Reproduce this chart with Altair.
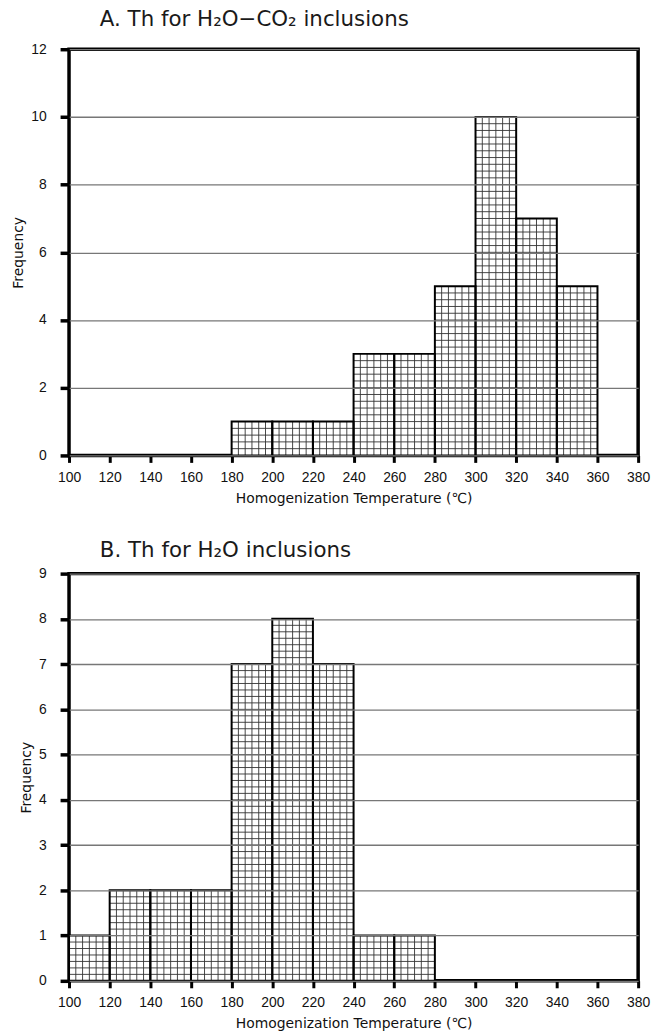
import altair as alt
import pandas as pd

bin_lo = [100, 120, 140, 160, 180, 200, 220, 240, 260, 280, 300, 320, 340, 360]
bin_width = 20
counts_a = [0, 0, 0, 0, 1, 1, 1, 3, 3, 5, 10, 7, 5, 0]
counts_b = [1, 2, 2, 2, 7, 8, 7, 1, 1, 0, 0, 0, 0, 0]
x_ticks = [100, 120, 140, 160, 180, 200, 220, 240, 260, 280, 300, 320, 340, 360, 380]
y_ticks_a = [0, 2, 4, 6, 8, 10, 12]
y_ticks_b = [0, 1, 2, 3, 4, 5, 6, 7, 8, 9]
title_a = "A.  Th for H\u2082O\u2212CO\u2082 inclusions"
title_b = "B.  Th for H\u2082O inclusions"
x_title = "Homogenization Temperature (\u2103)"
y_title = "Frequency"

LABEL_FONT = "Liberation Sans"
TEXT_FONT = "DejaVu Sans"


def panel(counts, y_ticks, hatch_step, height, title, title_offset):
    bars = pd.DataFrame({"lo": bin_lo, "hi": [b + bin_width for b in bin_lo], "n": counts})
    bars = bars[bars["n"] > 0].reset_index(drop=True)
    rows = []
    for lo, hi, n in zip(bars["lo"], bars["hi"], bars["n"]):
        for k in range(1, 6):
            xv = lo + k * bin_width / 6
            rows.append({"x": xv, "x2": xv, "y": 0, "y2": n})
        j = 1
        while j * hatch_step < n - 1e-9:
            rows.append({"x": lo, "x2": hi, "y": j * hatch_step, "y2": j * hatch_step})
            j += 1
    hatch = pd.DataFrame(rows)

    xs = alt.Scale(domain=[x_ticks[0], x_ticks[-1]], nice=False, zero=False)
    ys = alt.Scale(domain=[y_ticks[0], y_ticks[-1]], nice=False)
    xaxis = alt.Axis(values=x_ticks, title=x_title, grid=False, domain=False,
                     tickSize=7, tickWidth=3, tickColor="black", labelFlush=False,
                     labelFontSize=14, labelFont=LABEL_FONT, labelPadding=8,
                     labelColor="#111111",
                     titleFont=TEXT_FONT, titleFontSize=14, titleFontWeight="normal",
                     titleColor="#111111", titlePadding=7)
    yaxis = alt.Axis(values=y_ticks, title=y_title, grid=True, gridColor="#777777",
                     gridWidth=1.3, domain=False, zindex=1,
                     tickSize=9, tickWidth=3.5, tickColor="black",
                     labelFontSize=14, labelFont=LABEL_FONT, labelPadding=14,
                     labelColor="#111111",
                     titleFont=TEXT_FONT, titleFontSize=14, titleFontWeight="normal",
                     titleColor="#111111", titlePadding=5)

    base_bars = alt.Chart(bars).mark_rect(fill="white").encode(
        x=alt.X("lo:Q", scale=xs, axis=xaxis), x2="hi:Q",
        y=alt.Y("n:Q", scale=ys, axis=yaxis), y2=alt.datum(0))
    hatch_lines = alt.Chart(hatch).mark_rule(color="#333333", strokeWidth=0.9).encode(
        x=alt.X("x:Q", scale=xs), x2="x2:Q",
        y=alt.Y("y:Q", scale=ys), y2="y2:Q")
    outline = alt.Chart(bars).mark_rect(fill="white", fillOpacity=0, stroke="black",
                                        strokeWidth=2).encode(
        x=alt.X("lo:Q", scale=xs), x2="hi:Q",
        y=alt.Y("n:Q", scale=ys), y2=alt.datum(0))
    return alt.layer(base_bars, hatch_lines, outline).properties(
        width=573, height=height,
        title=alt.TitleParams(title, anchor="start", frame="group", dx=31,
                              fontSize=21.5, fontWeight="normal", font=TEXT_FONT,
                              color="#1a1a1a", offset=title_offset))


chart = alt.vconcat(
    panel(counts_a, y_ticks_a, 0.2, 409, title_a, 12),
    panel(counts_b, y_ticks_b, 1 / 7, 410, title_b, 5),
    spacing=31,
).properties(
    padding={"left": 9.5, "top": 3, "right": 4, "bottom": 0},
    background="white",
).configure_view(stroke="black", strokeWidth=3.5)

chart.save("out.html", embed_options={"renderer": "svg", "actions": False})
